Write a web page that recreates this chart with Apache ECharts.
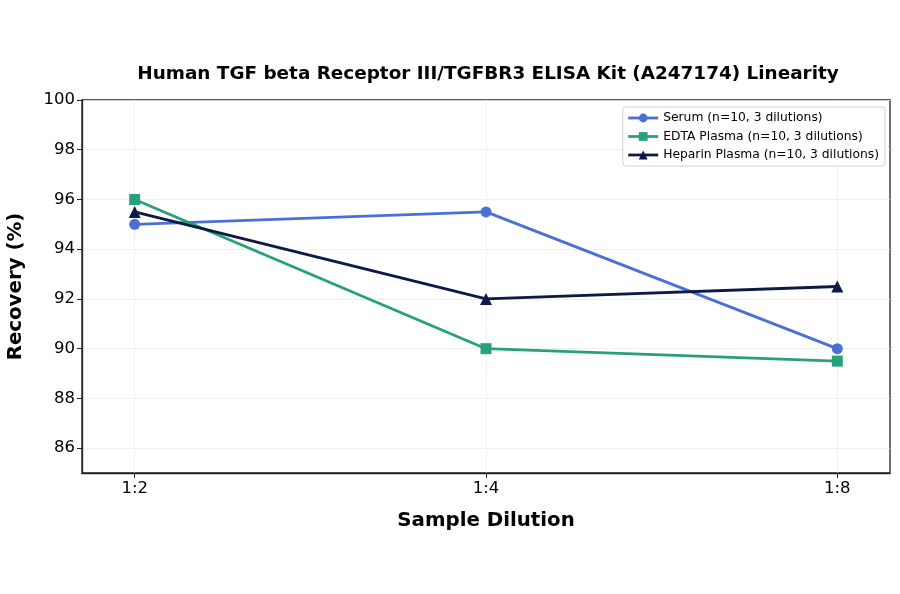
<!DOCTYPE html>
<html>
<head>
<meta charset="utf-8">
<script src="https://cdn.jsdelivr.net/npm/echarts@6/dist/echarts.min.js"></script>
<style>
  html, body { margin: 0; padding: 0; background: #fff; }
  #main { width: 900px; height: 594px; }
</style>
</head>
<body>
<div id="main"></div>
<script>
// dilution categories and recovery values (%)
var categories = ['1:2', '1:4', '1:8'];
var serum = [95, 95.5, 90];
var edtaPlasma = [96, 90, 89.5];
var heparinPlasma = [95.5, 92, 92.5];
var yTicks = [86, 88, 90, 92, 94, 96, 98, 100];
var seriesNames = [
  'Serum (n=10, 3 dilutions)',
  'EDTA Plasma (n=10, 3 dilutions)',
  'Heparin Plasma (n=10, 3 dilutions)'
];

var font = 'DejaVu Sans';

// 把数值和类别下标配成点
function toPoints(values) {
  var pts = [];
  for (var i = 0; i < values.length; i++) {
    pts.push([i, values[i]]);
  }
  return pts;
}

function makeSeries(name, values, color, symbol, size) {
  return {
    name: name,
    type: 'line',
    data: toPoints(values),
    symbol: symbol,
    symbolSize: size,
    lineStyle: { color: color, width: 2.8 },
    itemStyle: { color: color },
    z: 3
  };
}

var chart = echarts.init(document.getElementById('main'));
var option = {
  backgroundColor: '#fff',
  animation: false,
  title: {
    text: 'Human TGF beta Receptor III/TGFBR3 ELISA Kit (A247174) Linearity',
    left: 483,
    textAlign: 'center',
    top: 60,
    textStyle: { fontFamily: font, fontSize: 18.4, fontWeight: 'bold', color: '#000' }
  },
  legend: {
    orient: 'vertical',
    right: 15,
    top: 107,
    itemWidth: 30,
    itemHeight: 11,
    itemGap: 6.5,
    padding: [5, 6, 5, 4],
    borderColor: '#d0d0d0',
    borderWidth: 1,
    borderRadius: 3,
    backgroundColor: 'rgba(255,255,255,0.85)',
    lineStyle: { width: 2.8 },
    textStyle: { fontFamily: font, fontSize: 12.3, color: '#000' },
    data: seriesNames
  },
  grid: {
    left: 82,
    right: 10,
    top: 100,
    bottom: 121,
    outerBoundsMode: 'none',
    show: true,
    borderColor: '#222',
    borderWidth: 1.3,
    backgroundColor: 'transparent'
  },
  xAxis: {
    type: 'value',
    min: -0.15,
    max: 2.15,
    name: 'Sample Dilution',
    nameLocation: 'middle',
    nameGap: 38,
    nameTextStyle: { fontFamily: font, fontSize: 19.8, fontWeight: 'bold', color: '#000' },
    axisLine: { show: true, onZero: false, lineStyle: { color: '#222', width: 1.3 } },
    axisTick: { show: true, length: 5, customValues: [0, 1, 2], lineStyle: { color: '#222' } },
    axisLabel: {
      customValues: [0, 1, 2],
      fontFamily: font,
      fontSize: 16.5,
      color: '#000',
      margin: 7,
      formatter: function (v) { return categories[Math.round(v)]; }
    },
    splitLine: { show: true, lineStyle: { color: '#ebebeb', width: 0.8 } }
  },
  yAxis: {
    type: 'value',
    min: 85,
    max: 100,
    name: 'Recovery (%)',
    nameLocation: 'middle',
    nameGap: 56,
    nameTextStyle: { fontFamily: font, fontSize: 19.8, fontWeight: 'bold', color: '#000' },
    axisLine: { show: true, onZero: false, lineStyle: { color: '#222', width: 1.3 } },
    axisTick: { show: true, length: 5, customValues: yTicks, lineStyle: { color: '#222' } },
    axisLabel: {
      customValues: yTicks,
      fontFamily: font,
      fontSize: 16.5,
      color: '#000',
      margin: 7
    },
    splitLine: { show: true, lineStyle: { color: '#ebebeb', width: 0.8 } }
  },
  series: [
    makeSeries(seriesNames[0], serum, '#4a6fd8', 'circle', 11),
    makeSeries(seriesNames[1], edtaPlasma, '#27a07c', 'rect', 11),
    makeSeries(seriesNames[2], heparinPlasma, '#0d1a45', 'triangle', 12)
  ]
};
chart.setOption(option);
</script>
</body>
</html>
